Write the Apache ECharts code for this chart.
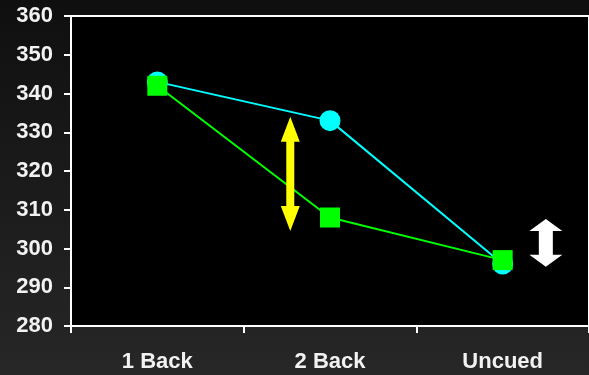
<!DOCTYPE html>
<html>
<head>
<meta charset="utf-8">
<script src="https://cdn.jsdelivr.net/npm/echarts@6/dist/echarts.min.js"></script>
<style>
html,body{margin:0;padding:0;}
#main{width:589px;height:375px;}
</style>
</head>
<body>
<div id="main"></div>
<script>
// data
var categories = ['1 Back', '2 Back', 'Uncued'];
var cuedValues = [343, 333, 296];      // cyan circles
var otherValues = [342, 308, 297];     // green squares
var yTicks = [280, 290, 300, 310, 320, 330, 340, 350, 360];
// arrows: position in category units, low value, high value
var arrowPos = [0.77, 2.25];
var arrowLow = [304.5, 295.3];
var arrowHigh = [334, 307.6];
var arrowColor = ['#ffff00', '#ffffff'];
var arrowShape = [ // shaft width, head width, head length
    [8, 19, 25],
    [14, 33, 12]
];

window.onload = function () {
    var Mychart = echarts.init(document.getElementById('main'));
    var font = "'Liberation Sans', Arial, sans-serif";

    var arrowData = arrowPos.map(function (p, i) {
        return [Math.floor(p), arrowLow[i], arrowHigh[i], p - Math.floor(p), i];
    });

    var option = {
        backgroundColor: {
            type: 'linear', x: 0, y: 0, x2: 0, y2: 1,
            colorStops: [{offset: 0, color: '#0f0f0f'}, {offset: 1, color: '#272727'}]
        },
        animation: false,
        grid: {
            left: 71, top: 16, right: -4, bottom: 49,
            show: true,
            backgroundColor: '#000',
            borderColor: '#fff',
            borderWidth: 2
        },
        xAxis: {
            type: 'category',
            data: categories,
            boundaryGap: true,
            axisLine: {lineStyle: {color: '#fff', width: 2}},
            axisTick: {show: true, length: 7, lineStyle: {color: '#fff', width: 2}},
            axisLabel: {color: '#f2f2f2', fontSize: 22, fontWeight: 'bold', fontFamily: font, margin: 25},
            splitLine: {show: false}
        },
        yAxis: {
            type: 'value',
            min: yTicks[0],
            max: yTicks[yTicks.length - 1],
            interval: 10,
            axisLine: {show: true, lineStyle: {color: '#fff', width: 2}},
            axisTick: {show: true, length: 7, lineStyle: {color: '#fff', width: 2}},
            axisLabel: {color: '#f2f2f2', fontSize: 22, fontWeight: 'bold', fontFamily: font, margin: 18},
            splitLine: {show: false}
        },
        series: [{
            name: 'cued',
            type: 'line',
            data: cuedValues,
            symbol: 'circle',
            symbolSize: 21,
            itemStyle: {color: '#00ffff'},
            lineStyle: {color: '#00ffff', width: 2}
        }, {
            name: 'other',
            type: 'line',
            data: otherValues,
            symbol: 'rect',
            symbolSize: 20,
            itemStyle: {color: '#00ff00'},
            lineStyle: {color: '#00ff00', width: 2}
        }, {
            name: 'arrows',
            type: 'custom',
            data: arrowData,
            encode: {x: 0, y: [1, 2]},
            renderItem: function (params, api) {
                var idx = api.value(4);
                var lo = api.coord([api.value(0), api.value(1)]);
                var hi = api.coord([api.value(0), api.value(2)]);
                var band = api.size([1, 0])[0];
                var x = lo[0] + api.value(3) * band;
                var s = arrowShape[idx];
                var sw = s[0] / 2, hw = s[1] / 2, hl = s[2];
                var top = hi[1], bot = lo[1];
                return {
                    type: 'polygon',
                    shape: {points: [
                        [x, top], [x + hw, top + hl], [x + sw, top + hl],
                        [x + sw, bot - hl], [x + hw, bot - hl], [x, bot],
                        [x - hw, bot - hl], [x - sw, bot - hl], [x - sw, top + hl],
                        [x - hw, top + hl]
                    ]},
                    style: {fill: arrowColor[idx]}
                };
            },
            z: 5
        }]
    };
    Mychart.setOption(option);
};
</script>
</body>
</html>
